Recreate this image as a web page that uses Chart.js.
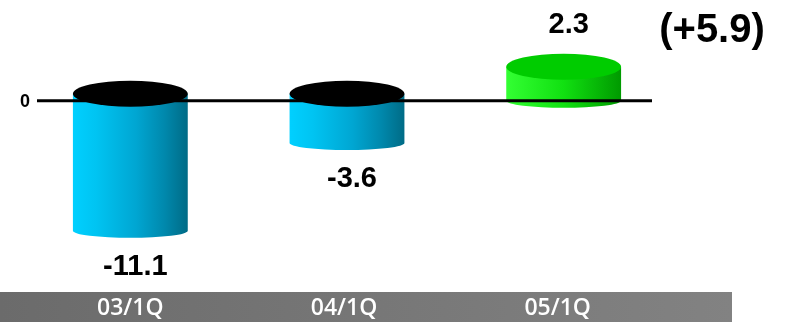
<!DOCTYPE html>
<html>
<head>
<meta charset="utf-8">
<script src="https://cdn.jsdelivr.net/npm/chart.js@4/dist/chart.umd.min.js"></script>
<style>
  html, body { margin: 0; padding: 0; background: #ffffff; }
  #wrap { width: 785px; height: 322px; position: relative; }
</style>
</head>
<body>
<div id="wrap"><canvas id="cylChart"></canvas></div>
<script>
const categories = ["03/1Q", "04/1Q", "05/1Q"];
const values = [-11.1, -3.6, 2.3];
const changeLabel = "(+5.9)";
const zeroLabel = "0";

// draws the cylinders, zero line, labels and the grey category band
const cylinderPlugin = {
    id: "cylinders",
    beforeDraw(chart) {
        const { ctx, scales } = chart;
        const xs = scales.x;
        const bandTop = 292;
        const bandRight = chart.chartArea.right + 60;
        const g = ctx.createLinearGradient(0, 0, bandRight, 0);
        g.addColorStop(0, "#6b6b6b");
        g.addColorStop(1, "#828282");
        ctx.save();
        ctx.fillStyle = g;
        ctx.fillRect(0, bandTop, bandRight, chart.height - bandTop);
        ctx.fillStyle = "#ffffff";
        ctx.font = "600 23px 'Open Sans'";
        ctx.textAlign = "center";
        ctx.textBaseline = "middle";
        categories.forEach((c, i) => {
            ctx.fillText(c, xs.getPixelForValue(i) - 3 * i, bandTop + 16);
        });
        ctx.restore();
    },
    afterDatasetsDraw(chart) {
        const { ctx, scales, chartArea } = chart;
        const meta = chart.getDatasetMeta(0);
        const zeroY = scales.y.getPixelForValue(0);
        ctx.save();
        meta.data.forEach((bar, i) => {
            const v = values[i];
            const rx = bar.width / 2;
            const top = Math.min(bar.y, bar.base);
            const bottom = Math.max(bar.y, bar.base);
            const capY = top - 7;
            const ry = 13;
            const left = bar.x - rx, right = bar.x + rx;

            const g = ctx.createLinearGradient(left, 0, right, 0);
            if (v < 0) {
                g.addColorStop(0, "#00d0ff");
                g.addColorStop(0.2, "#00c4f2");
                g.addColorStop(0.55, "#00a6d2");
                g.addColorStop(0.8, "#0088ac");
                g.addColorStop(1, "#006b86");
            } else {
                g.addColorStop(0, "#33ff33");
                g.addColorStop(0.5, "#11e011");
                g.addColorStop(1, "#009a00");
            }
            ctx.fillStyle = g;
            ctx.beginPath();
            ctx.moveTo(left, capY);
            ctx.lineTo(left, bottom);
            ctx.ellipse(bar.x, bottom, rx, 7, 0, Math.PI, 0, true);
            ctx.lineTo(right, capY);
            ctx.closePath();
            ctx.fill();

            ctx.fillStyle = v < 0 ? "#000000" : "#00cc00";
            ctx.beginPath();
            ctx.ellipse(bar.x, capY, rx, ry, 0, 0, Math.PI * 2);
            ctx.fill();

            ctx.fillStyle = "#000000";
            ctx.font = "bold 29px 'Liberation Sans'";
            ctx.textAlign = "center";
            ctx.textBaseline = "middle";
            const ly = v < 0 ? bottom + 36 : capY - ry - 29;
            ctx.fillText(v.toFixed(1), bar.x + 5, ly);
        });

        // zero line
        ctx.strokeStyle = "#000000";
        ctx.lineWidth = 3;
        ctx.beginPath();
        ctx.moveTo(chartArea.left + 15, zeroY);
        ctx.lineTo(chartArea.right - 20, zeroY);
        ctx.stroke();

        ctx.font = "bold 18px 'Liberation Sans'";
        ctx.textAlign = "center";
        ctx.textBaseline = "middle";
        ctx.fillText(zeroLabel, 25, zeroY + 1);

        ctx.font = "bold 40px 'Liberation Sans'";
        ctx.fillText(changeLabel, chartArea.right + 40, 31);
        ctx.restore();
    }
};

const ctx = document.getElementById("cylChart").getContext("2d");
new Chart(ctx, {
    type: "bar",
    data: {
        labels: categories,
        datasets: [{
            data: values,
            backgroundColor: "rgba(0,0,0,0)",
            borderWidth: 0,
            categoryPercentage: 1,
            barPercentage: 0.53
        }]
    },
    options: {
        responsive: true,
        maintainAspectRatio: false,
        animation: false,
        layout: { padding: { left: 22, right: 113, top: 7, bottom: 22 } },
        plugins: { legend: { display: false }, tooltip: { enabled: false } },
        scales: {
            x: { display: false },
            y: { display: false, min: -17, max: 8 }
        }
    },
    plugins: [cylinderPlugin]
});
</script>
</body>
</html>
